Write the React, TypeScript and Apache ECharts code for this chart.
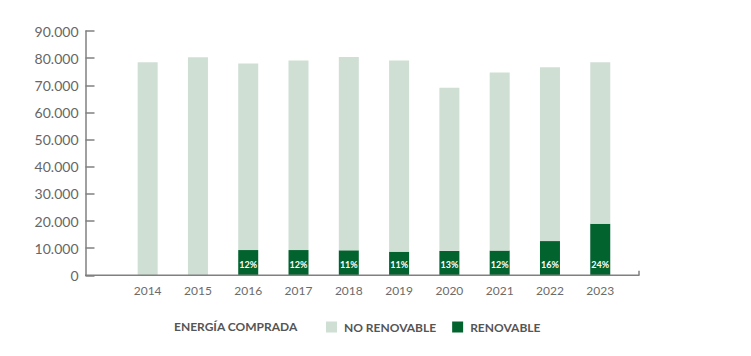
import React, { useEffect, useRef } from "react";
import * as echarts from "echarts";

const years = ["2014", "2015", "2016", "2017", "2018", "2019", "2020", "2021", "2022", "2023"];
const totalEnergy = [78500, 80300, 78000, 79100, 80400, 79100, 69100, 74700, 76600, 78500];
const renewable = [0, 0, 9300, 9300, 9200, 8700, 9000, 9100, 12600, 19000];
const renewableShare = ["", "", "12%", "12%", "11%", "11%", "13%", "12%", "16%", "24%"];
const yTicks = { min: 0, max: 90000, interval: 10000 };

const LIGHT = "#cfdfd4";
const DARK = "#03632f";
const AXIS = "#808080";
const FONT = "Lato";

function fmt(v: number): string {
  return String(v).replace(/\B(?=(\d{3})+(?!\d))/g, ".");
}

export default function App() {
  const ref = useRef<HTMLDivElement>(null);
  useEffect(() => {
    document.body.style.margin = "0";
    if (!ref.current) return;
    const chart = echarts.init(ref.current, undefined, { renderer: "svg" });
    const nonRenewable = totalEnergy.map((t, i) => t - renewable[i]);
    const gridLeft = 122.5;
    const gridRight = 125.6;
    const gridTop = 31;
    const gridBottom = 80.7;
    const baseY = 356 - gridBottom;
    chart.setOption({
      animation: false,
      grid: { left: gridLeft, right: gridRight, top: gridTop, bottom: gridBottom, containLabel: false },
      legend: {
        data: ["NO RENOVABLE", "RENOVABLE"],
        left: 326,
        top: 321,
        padding: 0,
        icon: "rect",
        itemWidth: 11,
        itemHeight: 11,
        itemGap: 16,
        textStyle: { fontFamily: FONT, fontWeight: "bold", fontSize: 12, color: "#555555", padding: [0, 0, 0, 2] },
        selectedMode: false,
      },
      xAxis: {
        type: "category",
        data: years,
        boundaryGap: true,
        axisLine: { show: false },
        axisTick: { show: false },
        axisLabel: { fontFamily: FONT, fontSize: 12, color: "#6b6b6b", margin: 9 },
      },
      yAxis: {
        type: "value",
        min: yTicks.min,
        max: yTicks.max,
        interval: yTicks.interval,
        offset: gridLeft - 85.5,
        axisLine: { show: true, lineStyle: { color: AXIS, width: 1.5 } },
        axisTick: { show: true, inside: true, length: 9, lineStyle: { color: AXIS, width: 1.5 } },
        splitLine: { show: false },
        axisLabel: {
          fontFamily: FONT,
          fontSize: 14,
          color: "#666666",
          margin: 7,
          formatter: (v: number) => fmt(v),
        },
      },
      graphic: [
        {
          type: "line",
          shape: { x1: 85, y1: baseY, x2: 639.5, y2: baseY },
          style: { stroke: AXIS, lineWidth: 1.5 },
          z: 10,
        },
        {
          type: "line",
          shape: { x1: 639, y1: baseY - 4.5, x2: 639, y2: baseY },
          style: { stroke: AXIS, lineWidth: 1.5 },
          z: 10,
        },
        {
          type: "text",
          left: 174,
          top: 320.5,
          style: {
            text: "ENERGÍA COMPRADA",
            fontFamily: FONT,
            fontWeight: "bold",
            fontSize: 12,
            fill: "#555555",
          },
        },
      ],
      series: [
        {
          name: "RENOVABLE",
          type: "bar",
          stack: "total",
          barWidth: 20,
          data: renewable,
          itemStyle: { color: DARK },
          label: {
            show: true,
            position: "insideBottom",
            distance: 6,
            fontFamily: FONT,
            fontWeight: "bold",
            fontSize: 9,
            color: "#ffffff",
            formatter: (p: any) => renewableShare[p.dataIndex],
          },
        },
        {
          name: "NO RENOVABLE",
          type: "bar",
          stack: "total",
          barWidth: 20,
          data: nonRenewable,
          itemStyle: { color: LIGHT },
        },
      ],
    });
    return () => chart.dispose();
  }, []);
  return <div ref={ref} style={{ width: 751, height: 356 }} />;
}
